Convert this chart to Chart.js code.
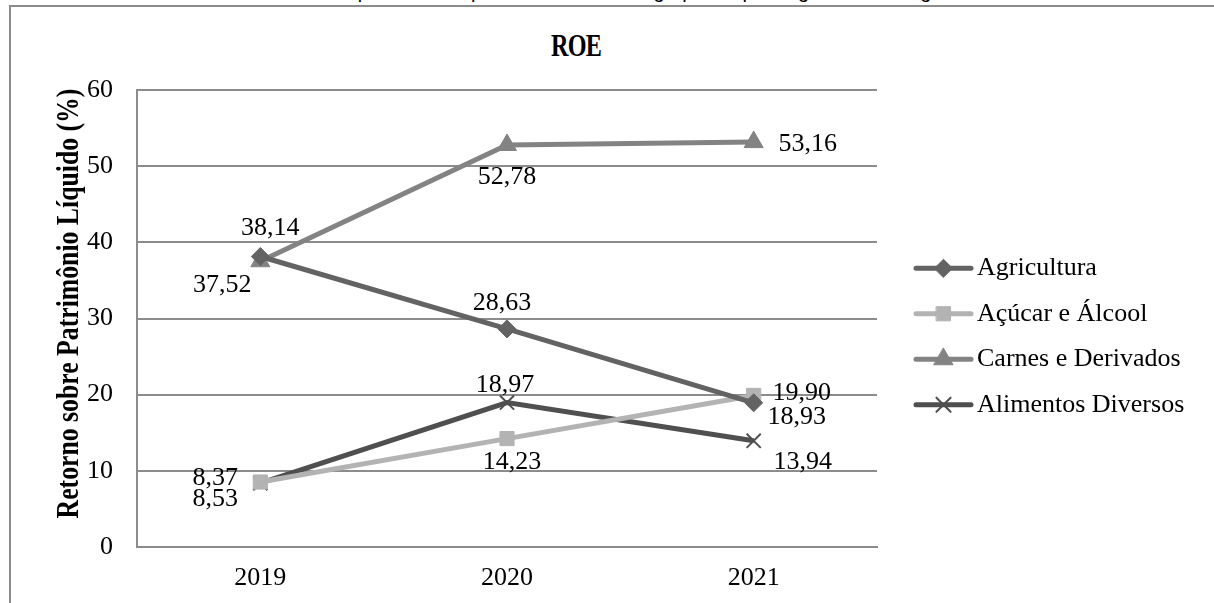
<!DOCTYPE html>
<html>
<head>
<meta charset="utf-8">
<script src="https://cdn.jsdelivr.net/npm/chart.js@4.4.1/dist/chart.umd.min.js"></script>
<style>
  html, body { margin: 0; padding: 0; background: #fff; width: 1214px; height: 603px; overflow: hidden; }
  #caption { position: absolute; left: 2px; top: -20px; font: 20px "Liberation Sans", Arial, sans-serif; white-space: nowrap; color: #000; }
  #frame { position: absolute; left: 9px; top: 5px; width: 1230px; height: 640px; border-left: 2px solid #8c8c8c; border-top: 2px solid #8c8c8c; }
  #title { position: absolute; left: 576px; top: 28px; transform: translateX(-50%) scaleX(0.78); font: bold 31px "Liberation Serif", "Times New Roman", serif; color: #000; letter-spacing: -1px; }
  canvas { position: absolute; left: 0; top: 0; }
</style>
</head>
<body>
<div id="caption">Gráfico 1 - Retorno sobre Patrimônio Líquido das empresas da amostra agrupadas por segmento de negócios.</div>
<div id="frame"></div>
<div id="title">ROE</div>
<canvas id="roe" width="1214" height="603"></canvas>
<script>
// Anos e ROE (%) por segmento
const years = ['2019', '2020', '2021'];
const agricultura = [38.14, 28.63, 18.93];
const acucarAlcool = [8.53, 14.23, 19.90];
const carnesDerivados = [37.52, 52.78, 53.16];
const alimentosDiversos = [8.37, 18.97, 13.94];
const seriesNames = ['Agricultura', 'Açúcar e Álcool', 'Carnes e Derivados', 'Alimentos Diversos'];
const yTicks = [0, 10, 20, 30, 40, 50, 60];
const yTitle = 'Retorno sobre Patrimônio Líquido (%)';

// Deslocamento (px) de cada rótulo de valor em relação ao seu ponto
const labelOffsets = [
  [[10, -28], [-5, -26], [43, 14]],
  [[-45, 17], [5, 24], [48, -2]],
  [[-38, 24], [0, 32], [54, 2]],
  [[-45, -5], [-2, -17], [49, 21]]
];

const serif = '"Liberation Serif", "Times New Roman", serif';
const gridGray = '#8c8c8c';
const textSize = 26;

const styles = [
  { color: '#636363', point: 'rectRot', radius: 9, border: 1 },
  { color: '#b3b3b3', point: 'rect', radius: 10, border: 1 },
  { color: '#838383', point: 'triangle', radius: 11, border: 1 },
  { color: '#4f4f4f', point: 'crossRot', radius: 10, border: 2 }
];

const seriesData = [agricultura, acucarAlcool, carnesDerivados, alimentosDiversos];

const datasets = seriesData.map((d, i) => ({
  label: seriesNames[i],
  data: d,
  borderColor: styles[i].color,
  backgroundColor: styles[i].color,
  borderWidth: 5,
  pointStyle: styles[i].point,
  pointRadius: styles[i].radius,
  pointHoverRadius: styles[i].radius,
  pointBorderWidth: styles[i].border,
  pointBorderColor: styles[i].color,
  pointBackgroundColor: styles[i].color,
  tension: 0,
  fill: false
}));

const fmt = v => v.toFixed(2).replace('.', ',');

// Rótulos de valor junto aos pontos
const valueLabels = {
  id: 'valueLabels',
  afterDatasetsDraw(chart) {
    const ctx = chart.ctx;
    ctx.save();
    ctx.font = textSize + 'px ' + serif;
    ctx.fillStyle = '#000';
    ctx.textAlign = 'center';
    ctx.textBaseline = 'middle';
    chart.data.datasets.forEach((ds, i) => {
      const meta = chart.getDatasetMeta(i);
      meta.data.forEach((pt, j) => {
        const off = labelOffsets[i][j];
        ctx.fillText(fmt(ds.data[j]), pt.x + off[0], pt.y + off[1]);
      });
    });
    ctx.restore();
  }
};

// Título do eixo Y, em negrito condensado
const yAxisTitle = {
  id: 'yAxisTitle',
  afterDraw(chart) {
    const ctx = chart.ctx;
    const a = chart.chartArea;
    ctx.save();
    ctx.translate(a.left - 67, (a.top + a.bottom) / 2 - 15);
    ctx.rotate(-Math.PI / 2);
    ctx.scale(0.83, 1);
    ctx.font = 'bold 31px ' + serif;
    ctx.fillStyle = '#000';
    ctx.textAlign = 'center';
    ctx.textBaseline = 'middle';
    ctx.fillText(yTitle, 0, 0);
    ctx.restore();
  }
};

// Legenda à direita: linha com marcador e nome da série
const sideLegend = {
  id: 'sideLegend',
  afterDraw(chart) {
    const ctx = chart.ctx;
    const a = chart.chartArea;
    const x0 = a.right + 39, x1 = a.right + 94, xm = (x0 + x1) / 2;
    const rowH = 45.5;
    const yStart = (a.top + a.bottom) / 2 - 1.5 * rowH + 18;
    chart.data.datasets.forEach((ds, i) => {
      const y = yStart + i * rowH;
      ctx.save();
      ctx.strokeStyle = ds.borderColor;
      ctx.lineWidth = 5;
      ctx.lineCap = 'round';
      ctx.beginPath();
      ctx.moveTo(x0, y);
      ctx.lineTo(x1, y);
      ctx.stroke();
      ctx.fillStyle = ds.pointBackgroundColor;
      ctx.strokeStyle = ds.pointBorderColor;
      ctx.lineWidth = ds.pointBorderWidth;
      Chart.helpers.drawPoint(ctx, { pointStyle: ds.pointStyle, radius: ds.pointRadius, rotation: 0, borderWidth: ds.pointBorderWidth }, xm, y);
      ctx.fillStyle = '#000';
      ctx.font = textSize + 'px ' + serif;
      ctx.textAlign = 'left';
      ctx.textBaseline = 'middle';
      ctx.fillText(ds.label, x1 + 6, y);
      ctx.restore();
    });
  }
};

new Chart(document.getElementById('roe'), {
  type: 'line',
  data: { labels: years, datasets },
  options: {
    responsive: false,
    devicePixelRatio: 1,
    animation: false,
    events: [],
    layout: { padding: { top: 90, right: 337, bottom: 0, left: 0 } },
    plugins: {
      legend: { display: false },
      title: { display: false },
      tooltip: { enabled: false }
    },
    scales: {
      x: {
        type: 'category',
        offset: true,
        grid: { display: false, drawTicks: false },
        border: { display: true, color: gridGray, width: 2 },
        ticks: { color: '#000', font: { family: serif, size: textSize }, padding: 16 },
        afterFit(scale) { scale.height = 56; }
      },
      y: {
        min: 0,
        max: 60,
        afterBuildTicks(scale) { scale.ticks = yTicks.map(v => ({ value: v })); },
        grid: { color: gridGray, lineWidth: 2, drawTicks: false },
        border: { display: true, color: gridGray, width: 2 },
        ticks: { color: '#000', font: { family: serif, size: textSize }, padding: 24 },
        afterFit(scale) { scale.width = 137; }
      }
    }
  },
  plugins: [valueLabels, yAxisTitle, sideLegend]
});
</script>
</body>
</html>
